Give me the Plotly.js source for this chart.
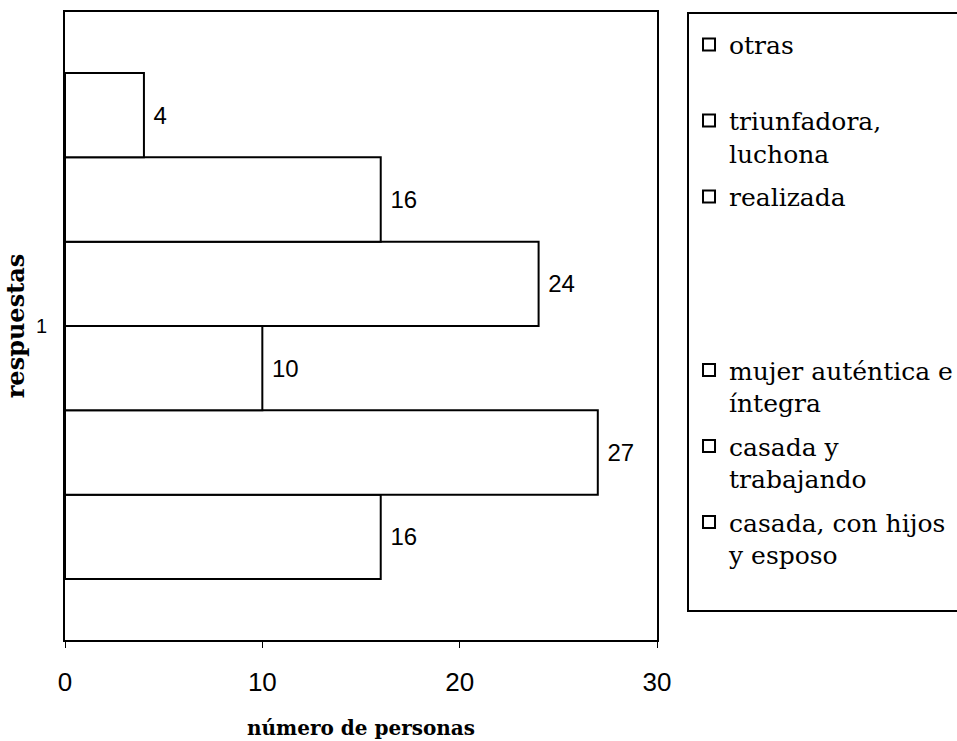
<!DOCTYPE html>
<html>
<head>
<meta charset="utf-8">
<script src="https://cdn.plot.ly/plotly-3.0.1.min.js"></script>
<style>
  body { margin: 0; background: #fff; }
  #chart { width: 957px; height: 741px; }
</style>
</head>
<body>
<div id="chart"></div>
<script>
// series, bottom bar first
const categories = ['1'];
const labels = [
    'casada, con hijos<br>y esposo<br> ',
    'casada y<br>trabajando',
    'mujer auténtica e<br>íntegra',
    'realizada<br> <br> <br> <br> ',
    'triunfadora,<br>luchona',
    'otras<br> '
];
const values = [16, 27, 10, 24, 16, 4];
const xTicks = [0, 10, 20, 30];

const serif = 'DejaVu Serif, serif';
const sans = 'Liberation Sans, Arial, sans-serif';

// one trace per answer so each one gets a legend entry, top bar listed first
const traces = labels.map((name, i) => ({
    type: 'bar',
    orientation: 'h',
    name: name,
    legendgroup: 'g' + i,
    legendrank: labels.length - i,
    y: categories,
    x: [values[i]],
    text: [' ' + values[i]],
    textposition: 'outside',
    textfont: {family: sans, size: 24, color: '#000'},
    cliponaxis: false,
    marker: {color: '#fff', line: {color: '#000', width: 2}},
    hoverinfo: 'x+name'
}));

const layout = {
    width: 957,
    height: 741,
    margin: {l: 65, r: 300, t: 12, b: 101, autoexpand: false},
    paper_bgcolor: '#fff',
    plot_bgcolor: '#fff',
    barmode: 'group',
    bargap: 0.194,
    bargroupgap: 0,
    showlegend: true,
    legend: {
        x: 1.0507, xanchor: 'left',
        y: 1, yanchor: 'top',
        traceorder: 'grouped',
        tracegroupgap: 8,
        valign: 'top',
        bordercolor: '#000',
        borderwidth: 2,
        bgcolor: '#fff',
        title: {text: ' ', font: {size: 6}},
        font: {family: serif, size: 25, color: '#000'}
    },
    xaxis: {
        range: [0, 30],
        tickvals: xTicks,
        ticks: 'outside',
        ticklen: 6,
        tickcolor: '#000',
        ticklabelstandoff: 12,
        tickfont: {family: sans, size: 26, color: '#000'},
        showgrid: false,
        zeroline: false,
        showline: true,
        mirror: true,
        linecolor: '#000',
        linewidth: 2,
        automargin: true,
        title: {text: 'número de personas', standoff: 25,
                font: {family: serif, size: 20, color: '#000', weight: 'bold'}}
    },
    yaxis: {
        type: 'category',
        ticks: '',
        ticklabelstandoff: 12,
        tickfont: {family: sans, size: 20, color: '#000'},
        showgrid: false,
        zeroline: false,
        showline: true,
        mirror: true,
        linecolor: '#000',
        linewidth: 2,
        automargin: true,
        title: {text: 'respuestas', standoff: 4,
                font: {family: serif, size: 24, color: '#000', weight: 'bold'}}
    }
};

Plotly.newPlot('chart', traces, layout, {displayModeBar: false, staticPlot: true});
</script>
</body>
</html>
